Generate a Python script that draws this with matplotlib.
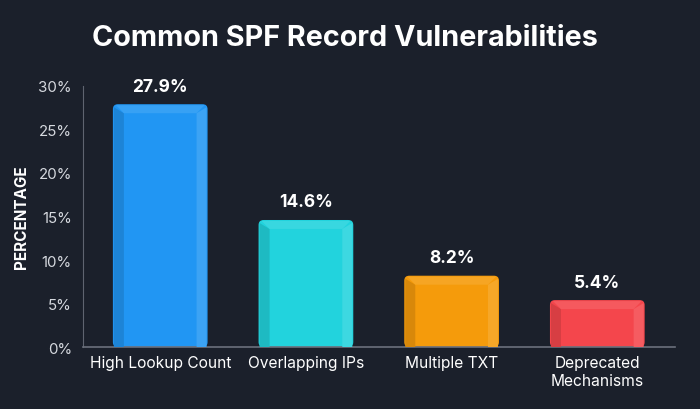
import matplotlib
matplotlib.use("Agg")
import matplotlib.pyplot as plt
from matplotlib.patches import FancyBboxPatch, Polygon
import matplotlib.colors as mcolors

categories = ["High Lookup Count", "Overlapping IPs", "Multiple TXT", "Deprecated\nMechanisms"]
values = [27.9, 14.6, 8.2, 5.4]
labels = ["27.9%", "14.6%", "8.2%", "5.4%"]
colors = ["#2196f3", "#22d3dd", "#f59b0b", "#f4464c"]
yticks = [0, 5, 10, 15, 20, 25, 30]
ytick_labels = ["0%", "5%", "10%", "15%", "20%", "25%", "30%"]

BG = "#1b202b"
plt.rcParams['font.family'] = ['Inter', 'DejaVu Sans']

fig = plt.figure(figsize=(7, 4.1), dpi=100, facecolor=BG)
ax = fig.add_axes([0.1186, 0.151, 0.845, 0.637])
ax.set_facecolor(BG)

bars = ax.bar(range(len(values)), values, width=0.65, color=colors)
ax.set_xlim(-0.53, 3.53)
ax.set_ylim(0, 30)

# pixel-to-data scale factors
px_x = (3.53 + 0.53) / (0.845 * 700)
px_y = 30 / (0.637 * 410)
aspect = px_y / px_x

def shade(c, f):
    r, g, b = mcolors.to_rgb(c)
    if f > 0:
        return (r + (1 - r) * f, g + (1 - g) * f, b + (1 - b) * f)
    return (r * (1 + f), g * (1 + f), b * (1 + f))

for bar, c, lab in zip(bars, colors, labels):
    x0, w, h = bar.get_x(), bar.get_width(), bar.get_height()
    bar.set_visible(False)
    body = FancyBboxPatch((x0, 0), w, h, boxstyle=f"round,pad=0,rounding_size={5*px_x}",
                          mutation_aspect=aspect, facecolor=c, edgecolor="none", zorder=2)
    ax.add_patch(body)
    bx = 11 * px_x
    by = 9 * px_y
    # left darker bevel
    ax.add_patch(Polygon([(x0 + 1*px_x, 0), (x0 + 1*px_x, h - 3*px_y), (x0 + bx, h - by), (x0 + bx, 0)],
                         closed=True, facecolor=shade(c, -0.12), edgecolor="none", zorder=3))
    # right lighter bevel
    ax.add_patch(Polygon([(x0 + w - 1*px_x, 0), (x0 + w - 1*px_x, h - 3*px_y), (x0 + w - bx, h - by), (x0 + w - bx, 0)],
                         closed=True, facecolor=shade(c, 0.12), edgecolor="none", zorder=3))
    # top lighter bevel
    ax.add_patch(Polygon([(x0 + 3*px_x, h - 1*px_y), (x0 + w - 3*px_x, h - 1*px_y), (x0 + w - bx, h - by), (x0 + bx, h - by)],
                         closed=True, facecolor=shade(c, 0.10), edgecolor="none", zorder=3))
    ax.text(x0 + w / 2, h + 1.1, lab, ha="center", va="bottom", color="white",
            fontsize=12.5, fontweight="bold", zorder=4)

ax.set_xticks(range(len(categories)))
ax.set_xticklabels(categories, color="white", fontsize=11.2, linespacing=1.25)
ax.set_yticks(yticks)
ax.set_yticklabels(ytick_labels, color="#d6d9df", fontsize=10.8)
ax.tick_params(axis="both", length=0, pad=8)
ax.tick_params(axis="x", pad=6)

for s in ["top", "right"]:
    ax.spines[s].set_visible(False)
ax.spines["left"].set_color("#5f6470")
ax.spines["left"].set_linewidth(0.8)
ax.spines["bottom"].set_color("#6b707c")
ax.spines["bottom"].set_linewidth(1.2)

ax.set_ylabel("PERCENTAGE", color="white", fontsize=11, fontweight="bold")
ax.yaxis.set_label_coords(-0.092, 0.5)

fig.text(0.493, 0.905, "Common SPF Record Vulnerabilities", ha="center", va="center",
         color="white", fontsize=20.7, fontweight="bold")

fig.savefig("out.png", dpi=100, facecolor=BG)
